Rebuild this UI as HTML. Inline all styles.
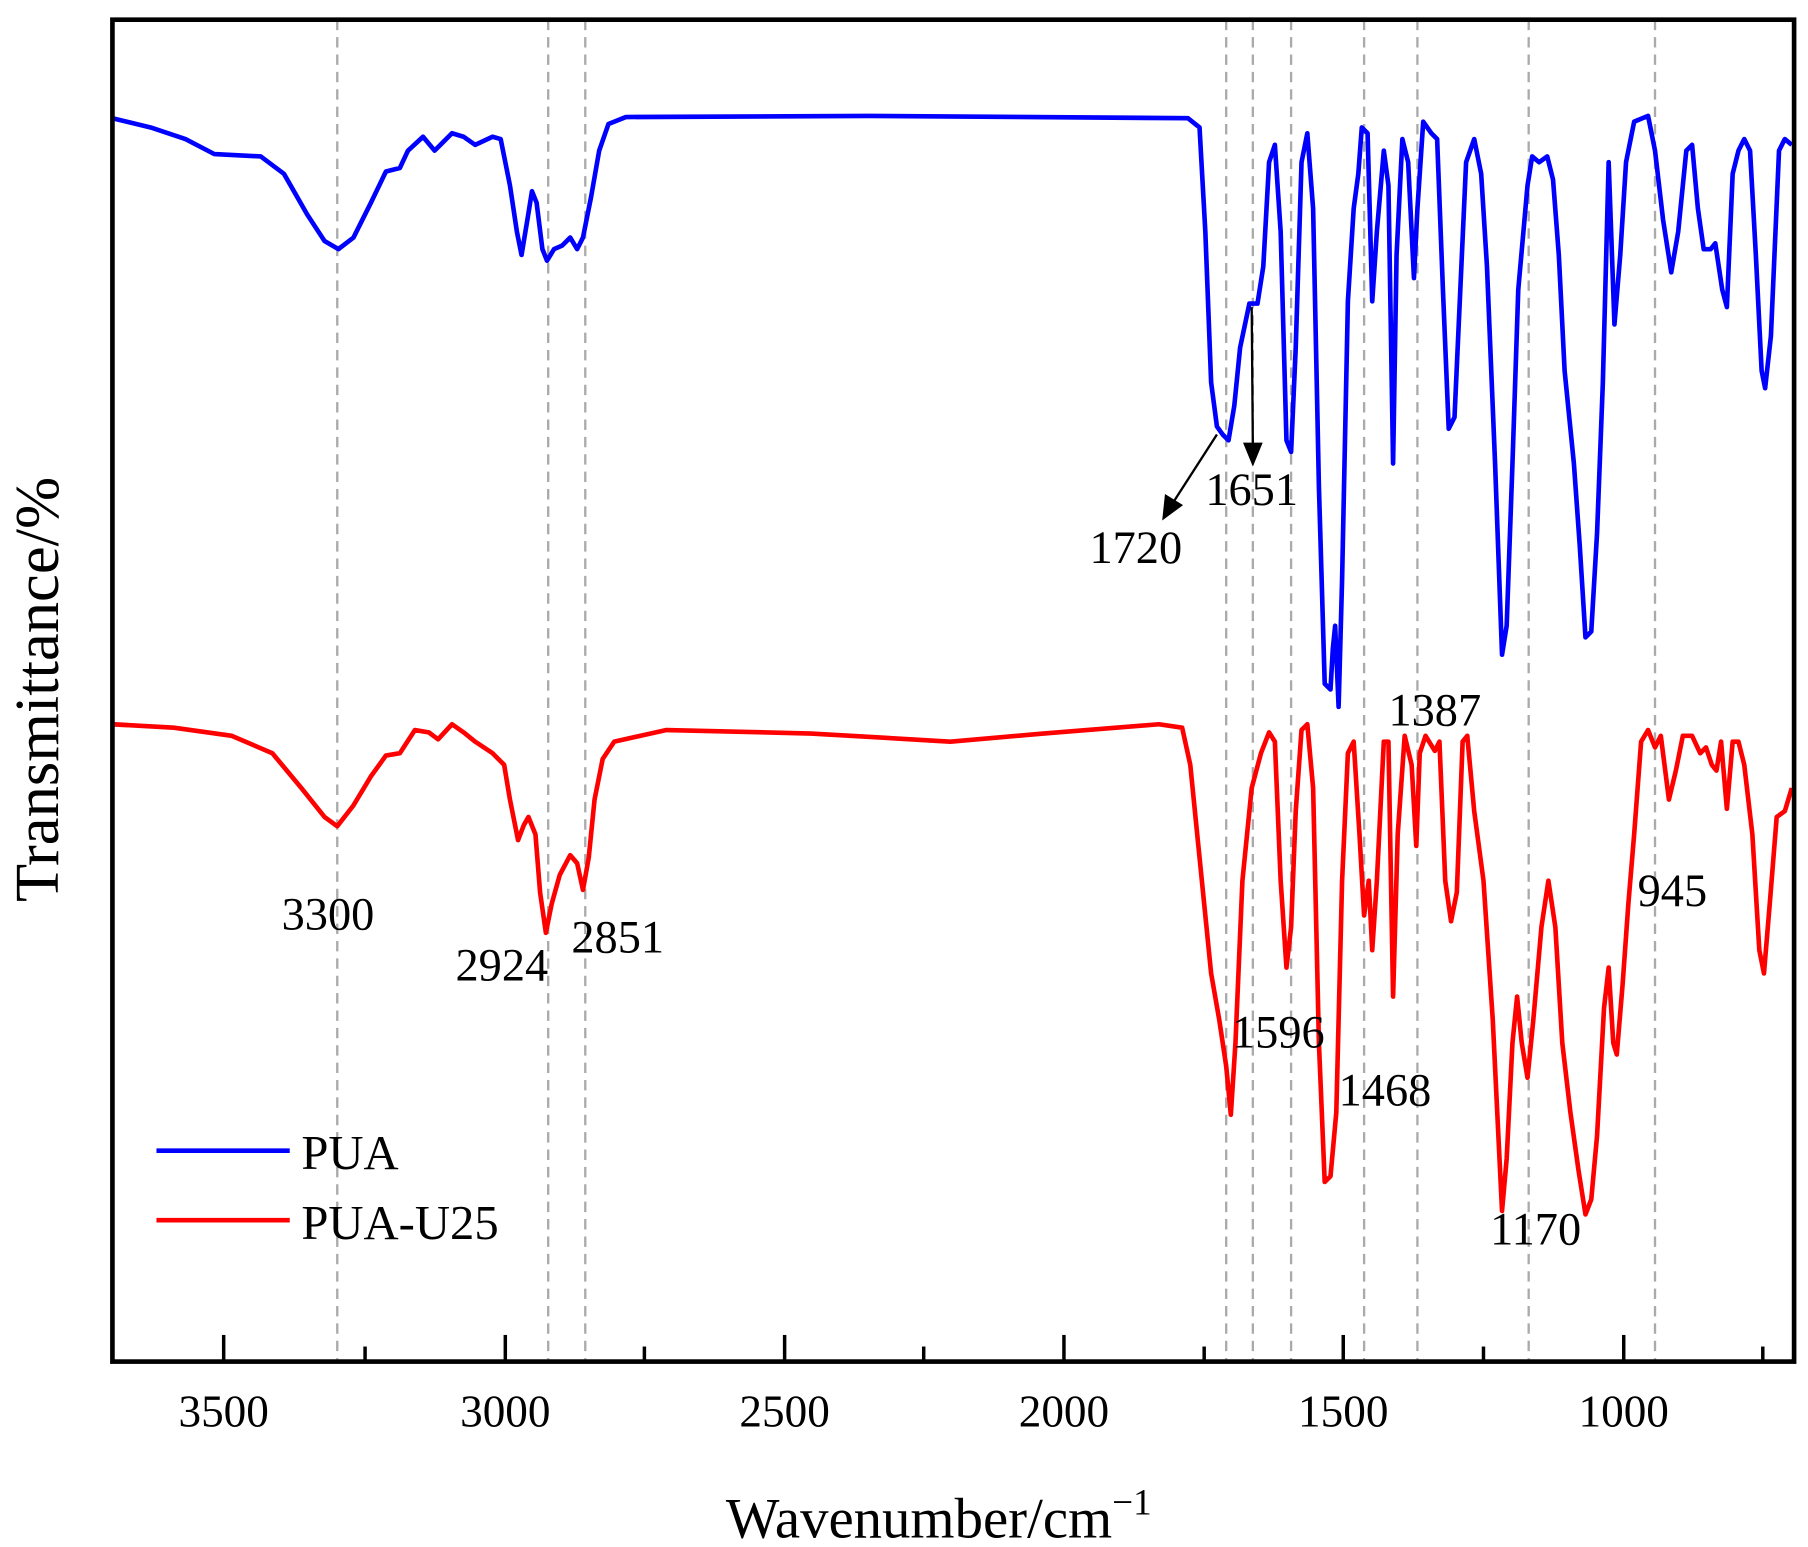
<!DOCTYPE html>
<html><head><meta charset="utf-8"><style>html,body{margin:0;padding:0;background:#fff}svg{display:block}</style></head><body>
<svg width="1808" height="1547" viewBox="0 0 1560 1335" preserveAspectRatio="none" xmlns="http://www.w3.org/2000/svg" font-family="'Liberation Serif', serif">
<g stroke="#aaa" stroke-width="2" stroke-dasharray="9,6">
<line x1="291" y1="17" x2="291" y2="1175"/><line x1="473" y1="17" x2="473" y2="1175"/><line x1="505" y1="17" x2="505" y2="1175"/>
<line x1="1058" y1="17" x2="1058" y2="1175"/><line x1="1081" y1="17" x2="1081" y2="1175"/><line x1="1114" y1="17" x2="1114" y2="1175"/>
<line x1="1177" y1="17" x2="1177" y2="1175"/><line x1="1223" y1="17" x2="1223" y2="1175"/><line x1="1319" y1="17" x2="1319" y2="1175"/><line x1="1428" y1="17" x2="1428" y2="1175"/>
</g>
<polyline fill="none" stroke="#0000ff" stroke-width="4" stroke-linejoin="round" points="97,102 130,110 160,120 185,133 225,135 245,150 265,185 280,208 292,215 305,205 320,175 333,148 345,145 352,130 365,118 375,130 390,115 400,118 410,125 425,118 432,120 440,160 446,200 450,220 455,190 459,165 463,175 468,215 472,225 478,215 485,212 492,205 498,215 503,205 510,170 517,130 525,107 540,101 750,100 1025,102 1035,110 1040,200 1045,330 1050,368 1055,375 1060,380 1065,350 1070,300 1078,262 1085,262 1090,230 1095,140 1100,125 1105,200 1110,380 1114,390 1118,300 1123,140 1128,115 1133,180 1138,420 1143,590 1148,595 1150,560 1152,540 1155,610 1158,500 1163,260 1168,180 1172,150 1175,110 1180,115 1184,260 1188,200 1194,130 1198,160 1202,400 1205,220 1210,120 1215,140 1220,240 1223,180 1228,105 1235,115 1240,120 1245,250 1250,370 1255,360 1260,250 1265,140 1272,120 1278,150 1283,230 1290,400 1296,565 1300,540 1305,400 1310,250 1318,160 1322,135 1328,140 1335,135 1340,155 1345,220 1350,320 1358,400 1363,470 1368,550 1373,545 1378,460 1383,330 1388,140 1393,280 1398,220 1403,140 1410,105 1422,100 1428,130 1435,190 1442,235 1448,200 1455,130 1460,125 1465,180 1470,215 1476,215 1480,210 1486,250 1490,265 1495,150 1500,130 1505,120 1510,130 1515,220 1520,320 1523,335 1528,290 1535,130 1540,120 1546,125"/>
<polyline fill="none" stroke="#ff0000" stroke-width="4" stroke-linejoin="round" points="97,625 150,628 200,635 235,650 260,680 280,705 291,713 305,695 320,670 333,652 345,650 358,630 370,632 378,638 390,625 400,632 410,640 425,650 435,660 440,690 447,725 452,712 456,705 462,720 466,770 471,805 476,780 483,755 492,738 498,745 503,768 508,740 513,690 520,655 530,640 575,630 700,633 820,640 900,633 1000,625 1020,628 1027,660 1035,740 1045,840 1052,880 1058,920 1062,962 1066,900 1072,760 1080,680 1088,650 1095,632 1100,640 1105,760 1110,835 1114,800 1118,700 1123,630 1128,625 1133,680 1138,900 1143,1020 1148,1015 1153,960 1158,760 1163,650 1168,640 1173,720 1177,790 1181,760 1184,820 1188,760 1194,640 1198,640 1202,860 1206,720 1212,635 1218,660 1222,730 1225,650 1230,635 1238,648 1242,640 1247,760 1252,795 1257,770 1262,640 1266,635 1272,700 1280,760 1288,880 1296,1045 1300,1000 1305,900 1309,860 1313,900 1318,930 1323,880 1330,800 1336,760 1342,800 1348,900 1355,960 1362,1010 1368,1048 1373,1035 1378,980 1384,870 1388,835 1392,900 1395,910 1400,850 1405,780 1410,720 1416,640 1422,630 1428,645 1433,635 1440,690 1446,665 1452,635 1460,635 1467,650 1472,645 1477,660 1481,665 1485,640 1490,698 1495,640 1500,640 1505,660 1512,720 1518,820 1522,840 1527,780 1533,705 1540,700 1546,680"/>
<rect x="97" y="17" width="1451" height="1158" fill="none" stroke="#000" stroke-width="4"/>
<g stroke="#000" stroke-width="3">
<line x1="193" y1="1175" x2="193" y2="1152"/><line x1="436" y1="1175" x2="436" y2="1152"/><line x1="677" y1="1175" x2="677" y2="1152"/><line x1="918" y1="1175" x2="918" y2="1152"/><line x1="1159" y1="1175" x2="1159" y2="1152"/><line x1="1401" y1="1175" x2="1401" y2="1152"/>
<line x1="315" y1="1175" x2="315" y2="1162"/><line x1="556" y1="1175" x2="556" y2="1162"/><line x1="797" y1="1175" x2="797" y2="1162"/><line x1="1039" y1="1175" x2="1039" y2="1162"/><line x1="1280" y1="1175" x2="1280" y2="1162"/><line x1="1521" y1="1175" x2="1521" y2="1162"/>
</g>
<g font-size="39" text-anchor="middle" fill="#000">
<text x="193" y="1231">3500</text><text x="436" y="1231">3000</text><text x="677" y="1231">2500</text><text x="918" y="1231">2000</text><text x="1159" y="1231">1500</text><text x="1401" y="1231">1000</text>
</g>
<text x="810" y="1327" font-size="49" text-anchor="middle">Wavenumber/cm<tspan font-size="32" dy="-20">−1</tspan></text>
<text transform="translate(50,595) rotate(-90)" font-size="54" text-anchor="middle">Transmittance/%</text>
<g font-size="40" text-anchor="middle">
<text x="980" y="486">1720</text><text x="1080" y="436">1651</text><text x="283" y="802">3300</text><text x="433" y="846">2924</text><text x="533" y="822">2851</text><text x="1103" y="904">1596</text><text x="1195" y="954">1468</text><text x="1238" y="626">1387</text><text x="1325" y="1074">1170</text><text x="1443" y="782">945</text>
</g>
<g stroke="#000" stroke-width="2" fill="#000">
<line x1="1050" y1="375" x2="1012" y2="434"/><polygon points="1004,447 1006,428 1019,436"/>
<line x1="1080" y1="265" x2="1081" y2="386"/><polygon points="1081,400 1074,383 1088,383"/>
</g>
<line x1="135" y1="993" x2="250" y2="993" stroke="#0000ff" stroke-width="4"/>
<text x="260" y="1009" font-size="42">PUA</text>
<line x1="135" y1="1053" x2="250" y2="1053" stroke="#ff0000" stroke-width="4"/>
<text x="260" y="1069" font-size="42">PUA-U25</text>
</svg>
</body></html>
